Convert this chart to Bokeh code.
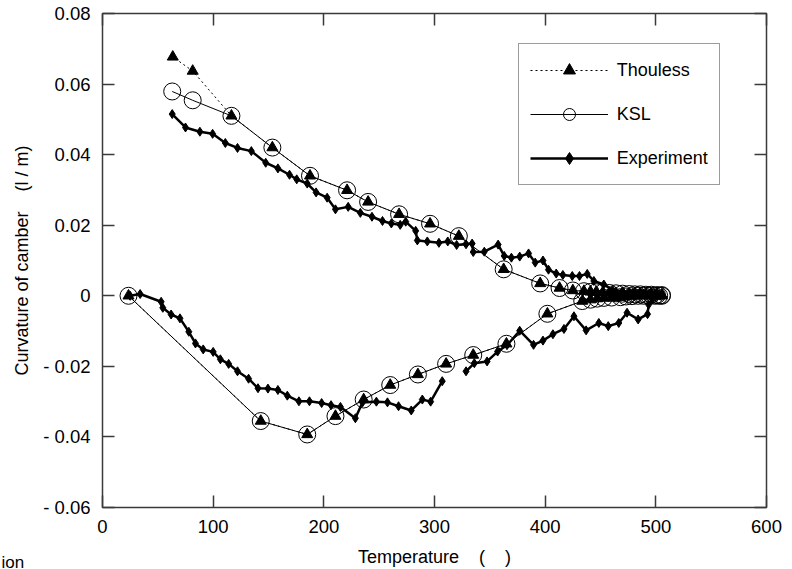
from bokeh.plotting import figure
from bokeh.models import Range1d, FixedTicker, LinearAxis, Legend, LegendItem, Label
from bokeh.embed import file_html
from bokeh.resources import INLINE

nan = float("nan")

# ---------------- data ----------------
x_ticks = [0, 100, 200, 300, 400, 500, 600]
y_ticks = [-0.06, -0.04, -0.02, 0.0, 0.02, 0.04, 0.06, 0.08]
y_tick_labels = ["- 0.06", "- 0.04", "- 0.02", "0", "0.02", "0.04", "0.06", "0.08"]

# Experiment, heating branch (gap in the record around 310-325)
exp_heat_T = [25, 34, 53, 54.5, 62, 70, 78, 84, 91, 100, 106.5, 114, 122, 132, 140.5,
              149.5, 158.5, 167, 177.5, 187, 198, 206.5, 215, 228.5, 235, 247.5, 257.5,
              267.5, 279, 289, 296.5, 307, nan, 328.5, 336, 347.5, 357, 365.5, 377, 389.5,
              398, 407, 417, 426, 437, 448.5, 457, 466.5, 474, 484, 492.5, 493.5, 497, 501]
exp_heat_y = [0.0, 0.0005, -0.0017, -0.0034, -0.0053, -0.0064, -0.0102, -0.0135, -0.0152,
              -0.0159, -0.0180, -0.0193, -0.0214, -0.0235, -0.0262, -0.0263, -0.0267,
              -0.0283, -0.0299, -0.0299, -0.0304, -0.0310, -0.0315, -0.0347, -0.0302,
              -0.0300, -0.0302, -0.0313, -0.0325, -0.0294, -0.0300, -0.0242, nan,
              -0.0214, -0.0191, -0.0186, -0.0158, -0.0140, -0.0099, -0.0139, -0.0127,
              -0.0109, -0.0094, -0.0058, -0.0098, -0.0077, -0.0086, -0.0077, -0.0048,
              -0.0067, -0.0052, -0.0025, -0.0010, 0.0]
# Experiment, cooling branch
exp_cool_T = [504, 497, 488, 479, 470, 461, 453, 444, 438, 431, 424.5, 416, 410, 403, 398,
              391, 385, 377, 369.5, 363, 357.5, 345, 335, 334, 328.5, 320, 312, 304, 293.5,
              284.5, 283, 274, 269, 261, 253, 243.5, 233, 222, 210.5, 203, 193, 185, 175.5,
              169, 158.5, 147.5, 134.5, 122, 111, 99.5, 88, 75, 63]
exp_cool_y = [0.0, 0.0002, 0.0005, 0.0008, 0.0013, 0.0016, 0.0032, 0.0042, 0.0062, 0.0056,
              0.0056, 0.0059, 0.0063, 0.0074, 0.0100, 0.0094, 0.0120, 0.0111, 0.0108,
              0.0113, 0.0145, 0.0125, 0.0124, 0.0148, 0.0146, 0.0144, 0.0154, 0.0150,
              0.0154, 0.0157, 0.0184, 0.0210, 0.0201, 0.0205, 0.0212, 0.0224, 0.0235,
              0.0252, 0.0245, 0.0278, 0.0293, 0.0318, 0.0330, 0.0343, 0.0361, 0.0377,
              0.0410, 0.0419, 0.0433, 0.0459, 0.0465, 0.0477, 0.0515]

# KSL model
ksl_heat_T = [23.5, 143, 185, 210.5, 236, 260, 285, 310.5, 335, 365, 402, 433.5, 441, 447,
              453, 460, 468, 473, 478.5, 484, 489, 494, 499, 503, 505.5]
ksl_heat_y = [0.0, -0.0355, -0.0393, -0.0341, -0.0294, -0.0253, -0.0223, -0.0193, -0.0168,
              -0.0136, -0.0051, -0.0015, -0.0011, -0.0008, -0.0006, -0.0005, -0.0004,
              -0.0002, -0.0001, 0.0, 0.0, 0.0, 0.0, 0.0, 0.0]
ksl_cool_T = [505.5, 501, 496, 491, 486, 481, 476, 470, 464, 458, 452, 446, 441, 435, 425,
              413, 395.5, 362.5, 322, 296, 268, 240, 221, 187.5, 153.5, 116.5, 81.5, 63]
ksl_cool_y = [0.0002, 0.0002, 0.0003, 0.0003, 0.0004, 0.0004, 0.0005, 0.0006, 0.0007,
              0.0008, 0.0009, 0.0010, 0.0011, 0.0013, 0.0015, 0.0022, 0.0035, 0.0075,
              0.0169, 0.0204, 0.0231, 0.0266, 0.0299, 0.0340, 0.0420, 0.0510, 0.0554, 0.0579]

# Thouless model
th_heat_T = [23.5, 143, 185, 210.5, 236, 260, 285, 310.5, 335, 365, 402, 433.5, 441, 447,
             453, 460, 468, 473, 478.5, 484, 489, 494, 499, 503, 505.5]
th_heat_y = [0.0, -0.0355, -0.0393, -0.0341, -0.0294, -0.0253, -0.0223, -0.0193, -0.0168,
             -0.0136, -0.0051, -0.0015, -0.0011, -0.0008, -0.0006, -0.0005, -0.0004,
             -0.0002, -0.0001, 0.0, 0.0, 0.0, 0.0, 0.0, 0.0]
th_cool_T = [505.5, 501, 496, 491, 486, 481, 476, 470, 464, 458, 452, 446, 441, 435, 425,
             413, 395.5, 362.5, 322, 296, 268, 240, 221, 187.5, 153.5, 116.5, 81.5, 63.5]
th_cool_y = [0.0002, 0.0002, 0.0003, 0.0003, 0.0004, 0.0004, 0.0005, 0.0006, 0.0007,
             0.0008, 0.0009, 0.0010, 0.0011, 0.0013, 0.0015, 0.0022, 0.0035, 0.0075,
             0.0169, 0.0204, 0.0231, 0.0266, 0.0299, 0.0340, 0.0420, 0.0510, 0.0637, 0.0677]

exp_T = exp_heat_T + exp_cool_T
exp_y = exp_heat_y + exp_cool_y
ksl_T = ksl_heat_T + ksl_cool_T
ksl_y = ksl_heat_y + ksl_cool_y
th_T = th_heat_T + th_cool_T
th_y = th_heat_y + th_cool_y

FONT = "Liberation Sans"
DARK = "#3a3a3a"
NB = "\u00a0"

p = figure(width=792, height=569, output_backend="svg", toolbar_location=None,
           x_range=Range1d(0, 600), y_range=Range1d(-0.06, 0.08),
           min_border_left=102, min_border_right=26, min_border_top=13, min_border_bottom=62)
p.grid.visible = False
p.outline_line_color = DARK
p.outline_line_width = 1.5
p.background_fill_color = "white"
p.border_fill_color = "white"

p.xaxis.ticker = FixedTicker(ticks=x_ticks)
p.yaxis.ticker = FixedTicker(ticks=y_ticks)
p.yaxis.major_label_overrides = {v: s for v, s in zip(y_ticks, y_tick_labels)}
p.xaxis.axis_label = "Temperature" + NB * 4 + "(" + NB * 4 + ")"
p.yaxis.axis_label = "Curvature of camber" + NB * 4 + "(l / m)"
for ax in (p.xaxis, p.yaxis):
    ax.axis_line_color = None
    ax.major_tick_in = 12
    ax.major_tick_out = 0
    ax.major_tick_line_color = DARK
    ax.major_tick_line_width = 1.5
    ax.minor_tick_line_color = None
    ax.major_label_text_font = FONT
    ax.major_label_text_font_size = "18.5px"
    ax.major_label_text_color = "black"
    ax.axis_label_text_font = FONT
    ax.axis_label_text_font_size = "18px"
    ax.axis_label_text_font_style = "normal"
    ax.axis_label_text_color = "black"
p.xaxis.major_label_standoff = 12
p.xaxis.axis_label_standoff = 11
p.yaxis.major_label_standoff = 12
p.yaxis.axis_label_standoff = 8

top = LinearAxis(ticker=FixedTicker(ticks=x_ticks), axis_line_color=None,
                 major_tick_in=12, major_tick_out=0, major_tick_line_color=DARK,
                 major_tick_line_width=1.5, minor_tick_line_color=None,
                 major_label_text_font_size="1px", major_label_text_color=None,
                 major_label_standoff=0)
right = LinearAxis(ticker=FixedTicker(ticks=y_ticks), axis_line_color=None,
                   major_tick_in=12, major_tick_out=0, major_tick_line_color=DARK,
                   major_tick_line_width=1.5, minor_tick_line_color=None,
                   major_label_text_font_size="1px", major_label_text_color=None,
                   major_label_standoff=0)
p.add_layout(top, "above")
p.add_layout(right, "right")

r_th_line = p.line(th_T, th_y, line_color="black", line_width=1, line_dash="2 3")
r_ksl_line = p.line(ksl_T, ksl_y, line_color="black", line_width=1)
r_exp_line = p.line(exp_T, exp_y, line_color="black", line_width=2.5)
r_exp_pts = p.scatter(exp_T, exp_y, marker="diamond", size=9,
                      fill_color="black", line_color="black")
r_th_pts = p.scatter(th_T, th_y, marker="triangle", size=11,
                     fill_color="black", line_color="black")
r_ksl_pts = p.scatter(ksl_T, ksl_y, marker="circle", size=17, fill_alpha=0,
                      line_color="black", line_width=1)

legend = Legend(items=[
    LegendItem(label="Thouless", renderers=[r_th_line, r_th_pts]),
    LegendItem(label="KSL", renderers=[r_ksl_line, r_ksl_pts]),
    LegendItem(label="Experiment", renderers=[r_exp_line, r_exp_pts]),
], location=(415.7, 322), glyph_width=78, glyph_height=30, label_height=30,
    spacing=14, padding=11, label_standoff=9, margin=0,
    border_line_color=DARK, border_line_width=1.5, background_fill_color="white",
    background_fill_alpha=1, label_text_font=FONT, label_text_font_size="18px",
    label_text_color="black")
p.add_layout(legend)

# cut-off caption fragment at the bottom-left corner (placed in a side panel so
# that it is not clipped to the plot frame)
p.add_layout(Label(x=-765, y=-55, x_units="screen", y_units="screen", text="ion",
                   text_font=FONT, text_font_size="17px", text_baseline="alphabetic",
                   text_color="black"), "right")

open("out.html", "w").write(file_html(p, INLINE))
